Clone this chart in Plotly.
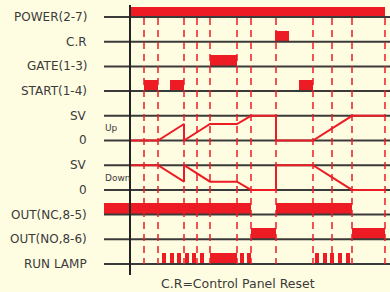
import plotly.graph_objects as go

# ---- data (time units: 0 = vertical axis) ----
row_labels = ["POWER(2-7)", "C.R", "GATE(1-3)", "START(1-4)", "SV", "0", "SV", "0",
              "OUT(NC,8-5)", "OUT(NO,8-6)", "RUN LAMP"]
event_times = [14, 28, 54, 67, 80, 107, 121, 146, 183, 202, 222, 255]

power_on = [(0, 255)]
cr_pulses = [(145, 159)]
gate_pulses = [(80, 107)]
start_pulses = [(14, 28), (40, 54), (169, 183)]
out_nc = [(-26, 121), (146, 222)]
out_no = [(121, 146), (222, 255)]
run_lamp = [(32, 36), (39.6, 43.6), (47.2, 51.2), (54.8, 58.8), (62.4, 66.4), (70, 74),
            (80, 107), (109.5, 113.5), (117, 121),
            (185, 189), (192.5, 196.5), (200, 204), (207.7, 211.7), (215.7, 219.7)]

sv_t = [0, 28, 54, 54, 80, 107, 121, 146, 146, 183, 222, 255]
sv_up = [0, 0, 0.667, 0, 0.667, 0.667, 1, 1, 0, 0, 1, 1]
sv_down = [1, 1, 0.333, 1, 0.333, 0.333, 0, 0, 1, 1, 0, 0]

footnote = "C.R=Control Panel Reset"

RED = "#ED1C24"
GRAY = "#3a3a3a"
BG = "#FFFDE1"

fig = go.Figure()

# baselines
bx, by = [], []
for i in range(len(row_labels)):
    bx += [-26, 260, None]
    by += [i, i, None]
fig.add_trace(go.Scatter(x=bx, y=by, mode="lines", line=dict(color=GRAY, width=2),
                         hoverinfo="skip", showlegend=False))

# dashed event lines
dx, dy = [], []
for t in event_times:
    dx += [t, t, None]
    dy += [0.04, 10, None]
fig.add_trace(go.Scatter(x=dx, y=dy, mode="lines",
                         line=dict(color=RED, width=1.5, dash="7px,5px"),
                         hoverinfo="skip", showlegend=False))

# bars
def add_bars(intervals, row, h=0.45):
    fig.add_trace(go.Bar(
        orientation="h",
        y=[row] * len(intervals),
        base=[a for a, b in intervals],
        x=[b - a for a, b in intervals],
        width=h, offset=-h,
        marker=dict(color=RED, line=dict(width=0)),
        hoverinfo="skip", showlegend=False))

add_bars(power_on, 0, 0.42)
add_bars(cr_pulses, 1)
add_bars(gate_pulses, 2, 0.48)
add_bars(start_pulses, 3)
add_bars(out_nc, 8, 0.48)
add_bars(out_no, 9)
add_bars(run_lamp, 10)

# SV traces
fig.add_trace(go.Scatter(x=sv_t, y=[5 - v for v in sv_up], mode="lines",
                         line=dict(color=RED, width=2), hoverinfo="skip", showlegend=False))
fig.add_trace(go.Scatter(x=sv_t, y=[7 - v for v in sv_down], mode="lines",
                         line=dict(color=RED, width=2), hoverinfo="skip", showlegend=False))

# vertical axis
fig.add_trace(go.Scatter(x=[0, 0], y=[-0.486, 10.445], mode="lines",
                         line=dict(color="#222222", width=2), hoverinfo="skip", showlegend=False))

annotations = []
for i, lab in enumerate(row_labels):
    annotations.append(dict(x=-41, y=i, text=lab, xanchor="right", yanchor="middle",
                            showarrow=False, font=dict(family="DejaVu Sans", size=12, color=GRAY)))
annotations.append(dict(x=-27, y=4.5, text="Up", xanchor="left", yanchor="middle",
                        showarrow=False, font=dict(family="DejaVu Sans", size=9, color=GRAY)))
annotations.append(dict(x=-27, y=6.5, text="Down", xanchor="left", yanchor="middle",
                        showarrow=False, font=dict(family="DejaVu Sans", size=9, color=GRAY)))
annotations.append(dict(x=107.5, y=10.77, text=footnote, xanchor="center", yanchor="middle",
                        showarrow=False, font=dict(family="DejaVu Sans", size=12.5, color=GRAY)))

fig.update_layout(
    width=390, height=292,
    margin=dict(l=0, r=0, t=0, b=0),
    paper_bgcolor=BG, plot_bgcolor=BG,
    barmode="overlay", bargap=0,
    xaxis=dict(range=[-130, 260], visible=False, fixedrange=True),
    yaxis=dict(range=[11.134, -0.688], visible=False, fixedrange=True),
    annotations=annotations,
    showlegend=False,
)

fig.write_html(
    "out.html",
    config={"displayModeBar": False},
    post_script="document.body.style.margin='0';document.body.style.overflow='hidden';"
                "document.body.style.background='" + BG + "';",
)
